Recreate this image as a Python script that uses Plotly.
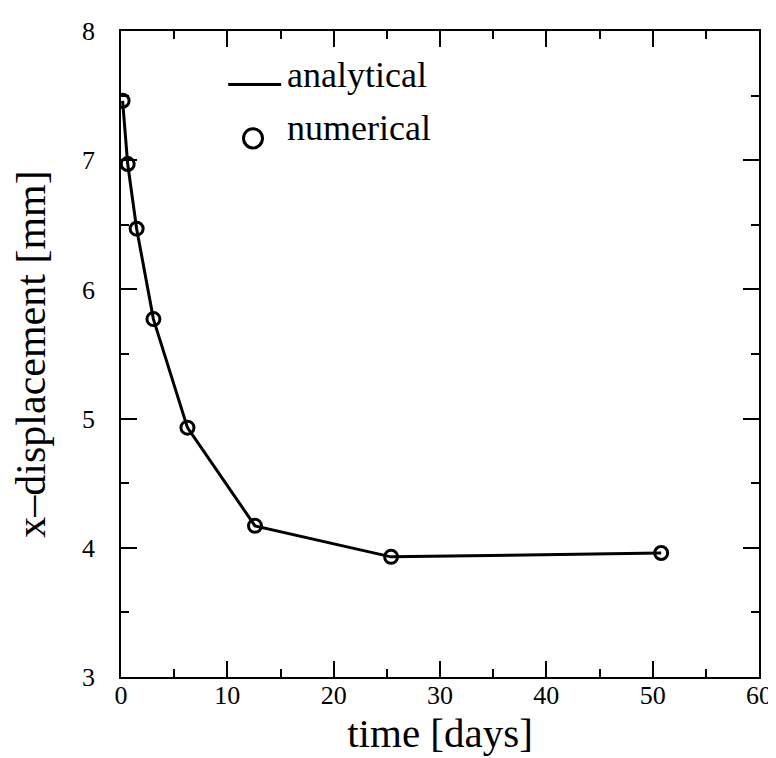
import plotly.graph_objects as go

time_days = [0.15, 0.63, 1.47, 3.05, 6.25, 12.6, 25.4, 50.8]
analytical_mm = [7.46, 6.97, 6.47, 5.77, 4.93, 4.17, 3.93, 3.96]
numerical_mm = [7.46, 6.97, 6.47, 5.77, 4.93, 4.17, 3.93, 3.96]

x_ticks = [0, 10, 20, 30, 40, 50, 60]
y_ticks = [3, 4, 5, 6, 7, 8]

FONT = "Liberation Serif"

fig = go.Figure()
fig.add_trace(go.Scatter(x=time_days, y=analytical_mm, mode="lines",
                         line=dict(color="black", width=3), name="analytical",
                         showlegend=False))
fig.add_trace(go.Scatter(x=time_days, y=numerical_mm, mode="markers",
                         marker=dict(symbol="circle-open", size=13, color="black",
                                     line=dict(width=3, color="black")),
                         name="numerical", showlegend=False))

# legend drawn manually (paper coords; plot area is 638x638)
fig.add_shape(type="line", xref="paper", yref="paper", x0=0.168, x1=0.251,
              y0=0.917, y1=0.917, line=dict(color="black", width=3))
fig.add_shape(type="circle", xref="paper", yref="paper",
              x0=(253 - 121 - 9.5) / 638, x1=(253 - 121 + 9.5) / 638,
              y0=(669 - 137 - 9.5) / 638, y1=(669 - 137 + 9.5) / 638,
              line=dict(color="black", width=3))
fig.add_annotation(text="analytical", xref="paper", yref="paper",
                   x=(285 - 121) / 638, y=(669 - 74) / 638, xanchor="left", yanchor="middle",
                   showarrow=False, font=dict(family=FONT, size=36, color="black"))
fig.add_annotation(text="numerical", xref="paper", yref="paper",
                   x=(285 - 121) / 638, y=(669 - 127) / 638, xanchor="left", yanchor="middle",
                   showarrow=False, font=dict(family=FONT, size=36, color="black"))

axis_common = dict(showgrid=False, zeroline=False, showline=True, linecolor="black",
                   linewidth=1.5, mirror="ticks", ticks="inside", ticklen=16,
                   tickwidth=1.5, tickcolor="black", automargin=False,
                   tickfont=dict(family=FONT, size=26, color="black"))

fig.update_xaxes(range=[0, 60], tickvals=x_ticks, ticktext=[str(v) for v in x_ticks],
                 minor=dict(dtick=5, tick0=0, ticks="inside", ticklen=8, tickwidth=1.5,
                            tickcolor="black"),
                 title=dict(text="time [days]", font=dict(family=FONT, size=41, color="black"),
                            standoff=2),
                 ticklabelstandoff=-6,
                 **axis_common)
fig.update_yaxes(range=[3, 8], tickvals=y_ticks, ticktext=[str(v) for v in y_ticks],
                 minor=dict(dtick=0.5, tick0=3, ticks="inside", ticklen=8, tickwidth=1.5,
                            tickcolor="black"),
                 title=dict(text="x\u2013displacement [mm]",
                            font=dict(family=FONT, size=42, color="black"), standoff=26),
                 ticklabelstandoff=19,
                 **axis_common)

# page body has an 8px default margin; size the figure so the plot area lands at 121..759 x 31..669
fig.update_layout(width=768, height=750, margin=dict(l=113, r=17, t=23, b=81),
                  paper_bgcolor="white", plot_bgcolor="white", showlegend=False)

fig.write_html("out.html")
